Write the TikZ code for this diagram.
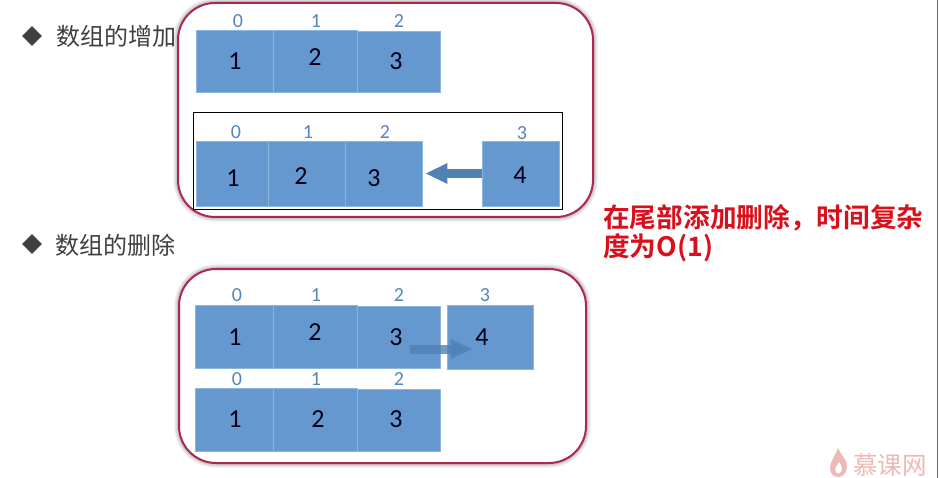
\documentclass[tikz,border=0pt]{standalone}
\usepackage{fontspec}
\setmainfont{Carlito}
\newfontfamily\cjk{Noto Sans CJK SC}
\newfontfamily\cjkb{Noto Sans CJK SC Bold}
\usetikzlibrary{shapes.geometric,arrows.meta}
\definecolor{cellblue}{HTML}{6598CF}
\definecolor{celledge}{HTML}{8DB6DF}
\definecolor{idxblue}{HTML}{5585BE}
\definecolor{framered}{HTML}{AB2A4C}
\definecolor{arrowblue}{HTML}{4F81B3}
\definecolor{headtext}{HTML}{404040}
\definecolor{redtext}{HTML}{D9101C}
\definecolor{markpink}{HTML}{EDB9B6}
\tikzset{
  x=1pt,y=-1pt,
  cell/.style={rectangle,inner sep=0pt,fill=cellblue,draw=celledge,line width=.6pt},
  digit/.style={inner sep=0pt,font=\fontsize{26}{26}\selectfont,text=black!90!blue},
  idx/.style={inner sep=0pt,font=\fontsize{20}{20}\selectfont,text=idxblue},
  frameshadow/.style={draw=black,rounded corners=37pt},
  frameline/.style={draw=framered,line width=2pt,rounded corners=37pt},
  blockarrow/.style={draw=arrowblue,line width=9pt,-{Triangle[length=22pt,width=19pt]}},
  bullet/.style={diamond,fill=headtext,inner sep=0pt,minimum width=20pt,minimum height=20pt},
  heading/.style={anchor=west,inner sep=0pt,font=\cjk\fontsize{24}{24}\selectfont,text=headtext},
  notetext/.style={anchor=west,inner sep=0pt,text=redtext,font=\cjkb\fontsize{26.7}{26.7}\selectfont},
}
\newcommand{\softframe}[4]{%
  \foreach \w/\o in {10/.04,8/.05,6/.06,4/.08}{
    \draw[frameshadow,line width=\w pt,opacity=\o] (#1,#2) rectangle (#3,#4);}
  \draw[frameline,fill=white] (#1,#2) rectangle (#3,#4);}
\newcommand{\boxcell}[5]{%
  \node[cell,minimum width={#4-#2},minimum height={#5-#3}] (#1) at ({(#2+#4)/2},{(#3+#5)/2}) {};}
\begin{document}
\begin{tikzpicture}
\useasboundingbox (0,0) rectangle (939,478);
\fill[white] (0,0) rectangle (939,478);
\draw[black!60,line width=1pt] (937.5,0) -- (937.5,478);

% headings
\node[bullet] (b1) at (32,36) {};
\node[heading] (h1) at (56,36) {数组的增加};
\node[bullet] (b2) at (32,244) {};
\node[heading] (h2) at (55,245) {数组的删除};

% frames
\softframe{178}{3}{593}{217}
\softframe{179}{269}{586}{463}
\draw[black,line width=1pt] (193,113) rectangle (562,210);

% block 1
\boxcell{a1}{196}{30}{273}{92}
\boxcell{a2}{273}{30}{357}{92}
\boxcell{a3}{357}{31}{440}{92}
\node[idx] (ai0) at (238,21) {0};
\node[idx] (ai1) at (316,21) {1};
\node[idx] (ai2) at (399,21) {2};
\node[digit] (ad1) at (235,61) {1};
\node[digit] (ad2) at (315,57) {2};
\node[digit] (ad3) at (396,61) {3};

% block 2
\boxcell{b1c}{196}{141}{268}{206}
\boxcell{b2c}{268}{141}{345.5}{206}
\boxcell{b3c}{345.5}{141}{422}{206}
\boxcell{b4c}{482.5}{141}{559}{206}
\node[idx] (bi0) at (236,132) {0};
\node[idx] (bi1) at (308,132) {1};
\node[idx] (bi2) at (385,132) {2};
\node[idx] (bi3) at (522,133) {3};
\node[digit] (bd1) at (233,178) {1};
\node[digit] (bd2) at (301,176) {2};
\node[digit] (bd3) at (374,178) {3};
\node[digit] (bd4) at (520,175) {4};
\draw[blockarrow] (b4c.west) -- ([xshift=3pt]b3c.east);

% block 3
\boxcell{c1}{195}{305}{273}{368}
\boxcell{c2}{273}{305}{357}{368}
\boxcell{c3}{357}{306}{440}{368}
\boxcell{c4}{447}{305}{533}{369}
\node[idx] (ci0) at (237,295) {0};
\node[idx] (ci1) at (316,295) {1};
\node[idx] (ci2) at (399,295) {2};
\node[idx] (ci3) at (485,295) {3};
\node[digit] (cd1) at (235,337) {1};
\node[digit] (cd2) at (315,332) {2};
\node[digit] (cd3) at (396,337) {3};
\node[digit] (cd4) at (482,337) {4};
\coordinate (ca) at (409.5,349);
\coordinate (cb) at (472.5,349);
\draw[blockarrow,opacity=.8] (ca) -- (cb);

% block 4
\boxcell{d1}{195}{388}{273}{451}
\boxcell{d2}{273}{388}{357}{451}
\boxcell{d3}{357}{389}{440}{451}
\node[idx] (di0) at (237,379) {0};
\node[idx] (di1) at (316,379) {1};
\node[idx] (di2) at (399,379) {2};
\node[digit] (dd1) at (235,419) {1};
\node[digit] (dd2) at (318,419) {2};
\node[digit] (dd3) at (396,419) {3};

% note
\node[notetext] (n1) at (603,218) {在尾部添加删除，时间复杂};
\node[notetext] (n2) at (603,248) {度为O(1)};

% watermark
\fill[markpink] (838,448) .. controls (842,456) and (848,462) .. (847,468)
  .. controls (846,474) and (842,477) .. (838,477)
  .. controls (833,477) and (830,473) .. (830,468)
  .. controls (830,462) and (834,458) .. (838,448) -- cycle;
\fill[white] (839,462) .. controls (842,466) and (843,470) .. (840,473)
  .. controls (837,475) and (834,471) .. (836,467) -- cycle;
\node[anchor=west,inner sep=0pt,text=markpink,font=\cjk\fontsize{24.5}{24.5}\selectfont] (wm) at (853,465) {慕课网};
\end{tikzpicture}
\end{document}
